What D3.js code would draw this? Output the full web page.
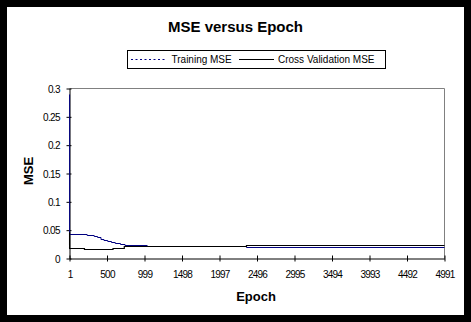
<!DOCTYPE html>
<html><head><meta charset="utf-8">
<script src="https://cdn.jsdelivr.net/npm/d3@7"></script>
<style>body{margin:0;background:#000}svg{display:block}text{font-family:"Liberation Sans",Arial,sans-serif}</style>
</head><body>
<svg id="c" width="471" height="322"></svg>
<script>
const title = "MSE versus Epoch";
const xTitle = "Epoch";
const yTitle = "MSE";
const seriesNames = ["Training MSE", "Cross Validation MSE"];
const xTicks = [1, 500, 999, 1498, 1997, 2496, 2995, 3494, 3993, 4492, 4991];
const yTicks = [0, 0.05, 0.1, 0.15, 0.2, 0.25, 0.3];
// step breakpoints (epoch where value starts) for each series
const trainEpochs = [1, 2, 236, 330, 375, 420, 460, 510, 560, 610, 680, 740, 1035, 2356, 4991];
const trainMSE    = [0.29, 0.043, 0.0415, 0.0395, 0.0375, 0.035, 0.033, 0.031, 0.029, 0.0268, 0.025, 0.0235, 0.0215, 0.0198, 0.0198];
const cvEpochs = [1, 2, 200, 580, 730, 2356, 4991];
const cvMSE    = [0.047, 0.0192, 0.0175, 0.0193, 0.0215, 0.0233, 0.0233];

const svg = d3.select("#c");
svg.append("rect").attr("x",7).attr("y",7).attr("width",457).attr("height",308).attr("fill","#fff");

const x = d3.scaleLinear().domain([1, 4991]).range([69.5, 444.5]);
const y = d3.scaleLinear().domain([0, 0.3]).range([258.5, 88.5]);

// plot border (gray top/right)
svg.append("path").attr("d", `M${x(1)},${y(0.3)}H${x(4991)}V${y(0)}`)
  .attr("fill","none").attr("stroke","#808080").attr("stroke-width",1);

// title
svg.append("text").attr("x",235.5).attr("y",31.5).attr("text-anchor","middle")
  .attr("font-size",15).attr("font-weight","bold").text(title);

// legend
const lg = svg.append("g");
lg.append("rect").attr("x",127.5).attr("y",50.5).attr("width",258).attr("height",18)
  .attr("fill","#fff").attr("stroke","#000");
lg.append("line").attr("x1",131).attr("x2",166).attr("y1",59.5).attr("y2",59.5)
  .attr("stroke","#000080").attr("stroke-dasharray","2,2.5");
lg.append("text").attr("x",171.5).attr("y",63).attr("font-size",10).text(seriesNames[0]);
lg.append("line").attr("x1",239).attr("x2",274).attr("y1",59.5).attr("y2",59.5).attr("stroke","#000");
lg.append("text").attr("x",278).attr("y",63).attr("font-size",10).text(seriesNames[1]);

// axes
const yAxis = d3.axisLeft(y).tickValues(yTicks).tickSize(0).tickFormat(d => d3.format("")(+d.toFixed(2)));
const gy = svg.append("g").attr("transform","translate(69.5,0)").call(yAxis);
gy.select(".domain").attr("stroke","#000");
gy.selectAll(".tick line").remove();
gy.selectAll(".tick").append("line").attr("x1",-3).attr("x2",2).attr("stroke","#000");
gy.selectAll(".tick text").attr("x",-9.5).attr("dy","0.35em").attr("font-size",10)
  .attr("font-family","Liberation Sans, Arial").attr("letter-spacing","-0.6px").attr("fill","#000");

const xAxis = d3.axisBottom(x).tickValues(xTicks).tickSize(0).tickFormat(d3.format("d"));
const gx = svg.append("g").attr("transform","translate(0,258.5)").call(xAxis);
gx.select(".domain").attr("stroke","#000");
gx.selectAll(".tick line").remove();
gx.selectAll(".tick").append("line").attr("y1",-3).attr("y2",3).attr("stroke","#000");
gx.selectAll(".tick text").attr("y",19).attr("dy",0).attr("font-size",10)
  .attr("font-family","Liberation Sans, Arial").attr("letter-spacing","-0.8px").attr("fill","#000");

svg.append("text").attr("x",256).attr("y",301).attr("text-anchor","middle")
  .attr("font-size",13).attr("font-weight","bold").text(xTitle);
svg.append("text").attr("transform","translate(32.5,171) rotate(-90)").attr("text-anchor","middle")
  .attr("font-size",13).attr("font-weight","bold").text(yTitle);

// series
const line = d3.line().x(d => x(d[0])).y(d => Math.round(y(d[1])) + 0.5).curve(d3.curveStepAfter);
const trainData = trainEpochs.map((e,i) => [e, trainMSE[i]]);
const cvData = cvEpochs.map((e,i) => [e, cvMSE[i]]);
svg.append("path").attr("d", line(trainData)).attr("fill","none").attr("stroke","#000080").attr("stroke-width",1);
svg.append("path").attr("d", line(cvData)).attr("fill","none").attr("stroke","#000").attr("stroke-width",1.2);
</script>
</body></html>
